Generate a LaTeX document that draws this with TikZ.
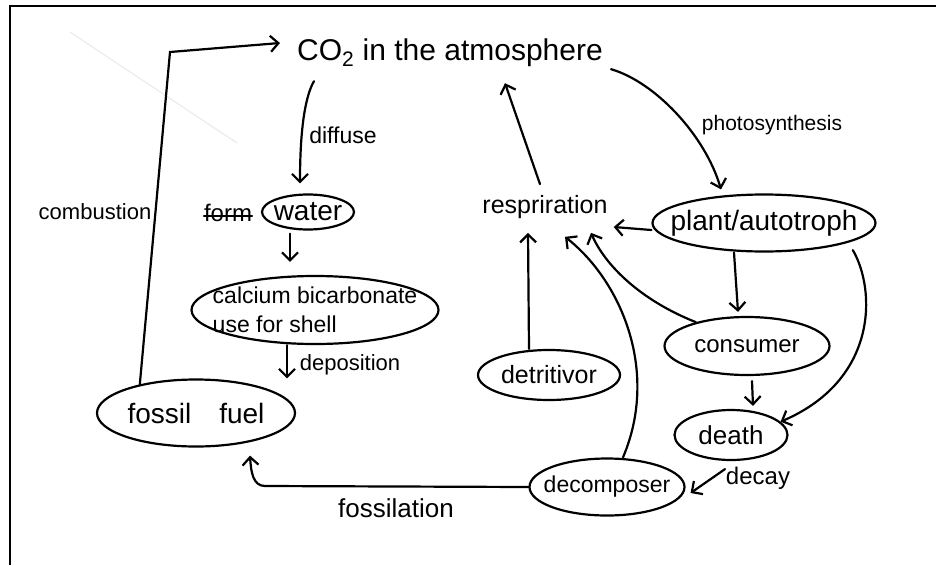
\documentclass[tikz,border=0pt]{standalone}
\usepackage{fontspec}
\setmainfont{Liberation Sans}
\usetikzlibrary{shapes.geometric,arrows.meta}
\newcommand\fsz[1]{\fontsize{#1}{#1}\selectfont}
\begin{document}
\begin{tikzpicture}[x=1pt,y=-1pt,
  ell/.style={draw, ellipse, line width=2.2pt, inner xsep=-30pt, inner ysep=-10pt},
  txt/.style={inner sep=0pt},
  arr/.style={line width=2.2pt, line cap=round, -{Straight Barb[length=8pt,width=16pt]}},
  con/.style={line width=2pt, line cap=round}]
\useasboundingbox (0,0) rectangle (936,565);
\fill[white] (0,0) rectangle (936,565);
\draw[gray!15, line width=1.2pt] (70,32) -- (237,143);
\draw[line width=2.6pt] (936,6) -- (10,6) -- (10,565);

% nodes
\node[txt,font=\fsz{30}] (co2) at (450,53) {CO\textsubscript{2} in the atmosphere};
\node[txt,font=\fsz{24}] (form) at (228,213) {form};
\draw[con] ([yshift=-3pt]form.west) -- ([yshift=-3pt]form.east);
\node[ell,font=\fsz{28},minimum width=92pt,minimum height=35pt] (water) at (308,212) {water};
\node[ell,font=\fontsize{23}{29}\selectfont,align=left,minimum width=247pt,minimum height=68pt] (calc) at (315,310) {calcium bicarbonate\\use for shell};
\node[ell,font=\fsz{28},minimum width=198pt,minimum height=67pt] (fossil) at (196,413) {fossil\quad fuel};
\node[txt,font=\fsz{25}] (resp) at (545,207) {respriration};
\node[ell,font=\fsz{28},minimum width=223pt,minimum height=57pt] (plant) at (764,223) {plant/autotroph};
\node[ell,font=\fsz{24},minimum width=165pt,minimum height=58pt] (cons) at (747,346) {consumer};
\node[ell,font=\fsz{26},minimum width=113pt,minimum height=50pt] (death) at (731,435) {death};
\node[ell,font=\fsz{25},minimum width=142pt,minimum height=50pt] (detr) at (549,375) {detritivor};
\node[ell,font=\fsz{23},minimum width=155pt,minimum height=57pt] (decomp) at (607,487) {decomposer};

% labels
\node[txt,font=\fsz{23}] (lbdiff) at (343,135) {diffuse};
\node[txt,font=\fsz{22}] (lbcomb) at (95,212) {combustion};
\node[txt,font=\fsz{21}] (lbphoto) at (772,125) {photosynthesis};
\node[txt,font=\fsz{22}] (lbdep) at (350,365) {deposition};
\node[txt,font=\fsz{26}] (lbfoss) at (396,508) {fossilation};
\node[txt,font=\fsz{24}] (lbdecay) at (758,478) {decay};

% connectors
\draw[arr] (fossil.153) -- (170,52) -- ([xshift=-17pt,yshift=10pt]co2.west);
\draw[arr] ([xshift=17pt,yshift=-14pt]co2.south west) .. controls (306,95) and (300,125) .. ([xshift=-8pt,yshift=10pt]water.north);
\draw[arr] ([xshift=-18pt,yshift=-3pt]water.south) -- ([xshift=-25pt,yshift=13pt]calc.north);
\draw[arr] ([xshift=-28pt]calc.south) -- ([xshift=-28pt]calc.south |- fossil.north);
\draw[arr] (decomp.west) -- (265,486) .. controls (253,486) and (251,472) .. ([xshift=54pt,yshift=-8pt]fossil.south);
\draw[arr] ([xshift=-5pt,yshift=11pt]resp.north) -- ([xshift=55pt,yshift=-16pt]co2.south);
\draw[arr] ([xshift=8pt,yshift=-2pt]co2.south east) .. controls (655,82) and (705,135) .. ([xshift=-43pt,yshift=4pt]plant.north);
\draw[arr] ([yshift=-7pt]plant.west) -- ([xshift=6pt,yshift=-20pt]resp.east);
\draw[arr] ([xshift=-20pt]detr.north) -- ([xshift=-17pt,yshift=-14pt]resp.south);
\draw[arr] ([xshift=16pt]decomp.north) .. controls (660,370) and (620,280) .. ([xshift=20pt,yshift=-18pt]resp.south);
\draw[arr] (cons.155) .. controls (640,300) and (605,265) .. ([xshift=46pt,yshift=-14pt]resp.south);
\draw[arr] ([xshift=-30pt]plant.south) -- ([xshift=-9pt,yshift=4pt]cons.north);
\draw[arr] ([xshift=10pt,yshift=-6pt]plant.-15) .. controls (876,290) and (878,380) .. (death.15);
\draw[arr] ([xshift=5pt,yshift=-5pt]cons.south) -- ([xshift=22pt,yshift=3pt]death.north);
\draw[arr] ([xshift=-6pt,yshift=-8pt]death.south) -- ([xshift=5pt,yshift=-6pt]decomp.east);
\end{tikzpicture}
\end{document}
